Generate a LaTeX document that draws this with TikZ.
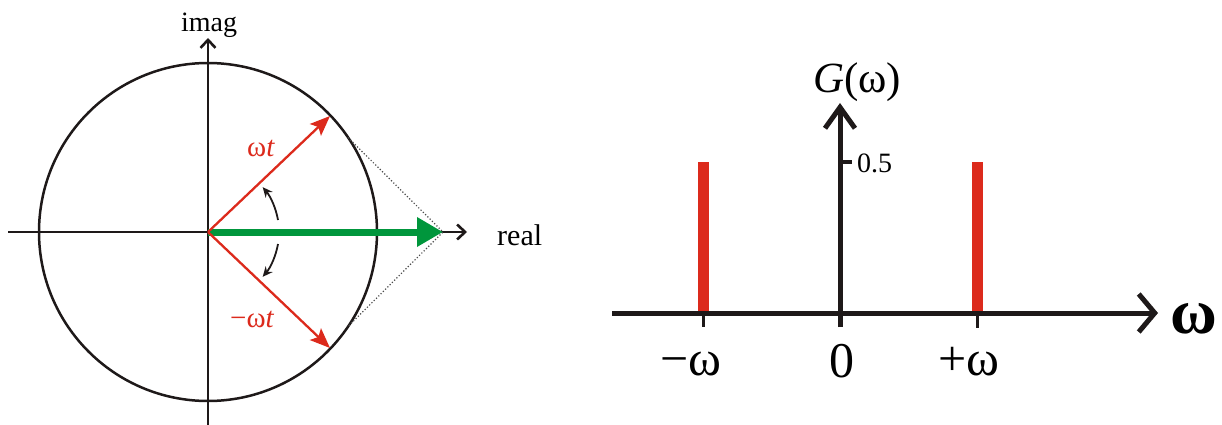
\documentclass[tikz,border=0pt]{standalone}
\usepackage{fontspec}
\setmainfont{Liberation Serif}
\usetikzlibrary{arrows.meta}
\definecolor{myred}{RGB}{220,42,28}
\definecolor{mygreen}{RGB}{0,150,60}
\definecolor{myblack}{RGB}{30,25,25}
\begin{document}
\begin{tikzpicture}[x=1pt,y=-1pt,
  thinaxis/.style={draw=myblack,line width=2.6pt,-{Straight Barb[length=8pt,width=15pt,line width=2.6pt]}},
  redvec/.style={draw=myred,line width=2.3pt,-{Stealth[length=20pt,width=16pt,inset=4pt]}},
  greenvec/.style={draw=mygreen,line width=7pt,-{Triangle[length=26pt,width=28pt]}},
  rotarrow/.style={draw=myblack,line width=1.8pt,-{Stealth[length=10pt,width=9pt]}},
  thickaxis/.style={draw=myblack,line width=5pt},
  tickline/.style={draw=myblack,line width=3pt},
  bar/.style={draw=myred,line width=11pt},
  lbl/.style={inner sep=0pt,anchor=base},
]
\useasboundingbox (0,0) rectangle (1222,425);
% ---------- left: phasor diagram ----------
\coordinate (O) at (208,232);
\coordinate (xl) at (8,232);
\coordinate (xr) at (467,232);
\coordinate (yb) at (208,425);
\coordinate (yt) at (208,38);
\coordinate (A1) at (330,116);
\coordinate (A2) at (330,348);
\coordinate (G) at (443,232);
\coordinate (P1) at (348,137.5);
\coordinate (P2) at (348,326.5);
\draw[myblack,line width=2.5pt] (O) circle[radius=169];
\draw[thinaxis] (xl) -- (xr);
\draw[thinaxis] (yb) -- (yt);
\draw[black!70,line width=1.2pt,dotted] (P1) -- (G) -- (P2);
\draw[greenvec] (O) -- (G);
\draw[redvec] (O) -- (A1);
\draw[redvec] (O) -- (A2);
\draw[rotarrow] (278,220) arc[start angle=-10,end angle=-40,radius=70];
\draw[rotarrow] (278,244) arc[start angle=10,end angle=40,radius=70];
\node[lbl,font=\fontsize{28}{30}\selectfont] (imag) at (209,32) {imag};
\node[lbl,anchor=base west,font=\fontsize{30}{32}\selectfont] (real) at (497,245) {real};
\node[lbl,anchor=base west,text=myred,font=\fontsize{29}{31}\selectfont] (wt) at (247,156) {ω\textit{t}};
\node[lbl,anchor=base west,text=myred,font=\fontsize{29}{31}\selectfont] (mwt) at (230,327) {−ω\textit{t}};
% ---------- right: spectrum ----------
\coordinate (hl) at (612,313);
\coordinate (hr) at (1158,313);
\coordinate (vb) at (840,327);
\coordinate (vt) at (840,103);
\draw[bar] (703.5,162) -- (703.5,313);
\draw[bar] (977.5,162) -- (977.5,313);
\draw[thickaxis,-{Straight Barb[length=16pt,width=38pt,line width=5pt]}] (hl) -- (hr);
\draw[thickaxis,-{Straight Barb[length=21pt,width=30pt,line width=5pt]}] (vb) -- (vt);
\draw[tickline] (703.5,313) -- (703.5,327);
\draw[tickline] (977.5,313) -- (977.5,328);
\draw[draw=myblack,line width=4pt] (840,162) -- (852,162);
\node[lbl,anchor=base west,font=\fontsize{28}{30}\selectfont] (half) at (857,172) {0.5};
\node[lbl,anchor=base west,font=\fontsize{43}{45}\selectfont] (Gw) at (813,93) {\textit{G}(ω)};
\node[lbl,font=\fontsize{50}{52}\selectfont] (mw) at (691,375) {−ω};
\node[lbl,font=\fontsize{50}{52}\selectfont] (zero) at (842,377) {0};
\node[lbl,font=\fontsize{50}{52}\selectfont] (pw) at (969,375) {+ω};
\node[lbl,anchor=base west,font=\fontsize{64}{66}\selectfont\bfseries] (wax) at (1170,333) {ω};
\end{tikzpicture}
\end{document}
